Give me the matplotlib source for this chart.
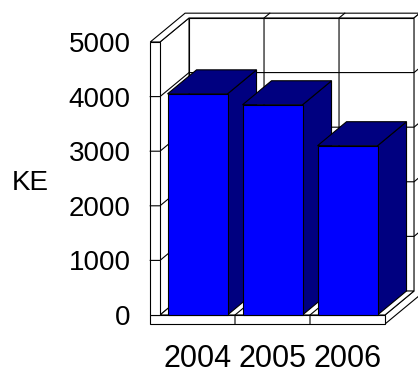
import matplotlib.pyplot as plt
from matplotlib.patches import Polygon

plt.rcParams['font.family'] = ['Liberation Sans', 'DejaVu Sans']

years = ['2004', '2005', '2006']
values = [4050, 3850, 3100]
y_ticks = [0, 1000, 2000, 3000, 4000, 5000]
y_label = 'KE'

# fake 3d look: depth offset in data units
DX, DY = 0.387, 440
WALL = 0.13      # left wall thickness (x units)
FLOOR = 165      # floor thickness (value units)
BACK = 0.2       # back wall thickness (depth units)
YMAX = y_ticks[-1]
NCAT = len(years)
BAR_W = 0.8


def proj(x, y, z):
    return (x + z * DX, y + z * DY)


def face(ax, pts, fc, z=1):
    poly = Polygon([proj(*p) for p in pts], closed=True, facecolor=fc,
                   edgecolor='black', linewidth=0.8, clip_on=False,
                   joinstyle='miter', zorder=z)
    ax.add_patch(poly)


def line(ax, pts):
    xy = [proj(*p) for p in pts]
    ax.plot([p[0] for p in xy], [p[1] for p in xy], color='black',
            linewidth=0.8, clip_on=False, zorder=1.5)


fig = plt.figure(figsize=(4.18, 3.74), dpi=100)
ax = fig.add_axes([160 / 418, 59 / 374, 225 / 418, 273 / 374])
ax.set_xlim(0, NCAT)
ax.set_ylim(0, YMAX)
ax.set_facecolor('none')
for s in ax.spines.values():
    s.set_visible(False)

# walls and floor
face(ax, [(0, 0, 1), (NCAT, 0, 1), (NCAT, YMAX, 1), (0, YMAX, 1)], 'white')
face(ax, [(0, 0, 0), (0, 0, 1), (0, YMAX, 1), (0, YMAX, 0)], 'white')
face(ax, [(-WALL, YMAX, 0), (0, YMAX, 0), (0, YMAX, 1), (NCAT, YMAX, 1),
          (NCAT, YMAX, 1 + BACK), (-WALL, YMAX, 1 + BACK)], 'white')
face(ax, [(NCAT, -FLOOR, 0), (NCAT, 0, 0), (NCAT, 0, 1), (NCAT, YMAX, 1),
          (NCAT, YMAX, 1 + BACK), (NCAT, -FLOOR, 1 + BACK)], 'white')
face(ax, [(0, 0, 0), (NCAT, 0, 0), (NCAT, 0, 1), (0, 0, 1)], 'white')
face(ax, [(-WALL, -FLOOR, 0), (NCAT, -FLOOR, 0), (NCAT, 0, 0), (-WALL, 0, 0)], 'white')
face(ax, [(-WALL, 0, 0), (0, 0, 0), (0, YMAX, 0), (-WALL, YMAX, 0)], 'white')

# gridlines
for v in y_ticks[1:-1]:
    line(ax, [(-WALL, v, 0), (0, v, 0), (0, v, 1), (NCAT, v, 1), (NCAT, v, 1 + BACK)])
for i in range(1, NCAT):
    line(ax, [(i, 0, 1), (i, YMAX, 1), (i, YMAX, 1 + BACK)])
    line(ax, [(i, -FLOOR, 0), (i, 0, 0), (i, 0, 1)])

# bars, left to right so each one hides the side of the previous
for i, v in enumerate(values):
    x0 = i + (1 - BAR_W) / 2
    x1 = x0 + BAR_W
    zb = 3 + i
    face(ax, [(x1, 0, 0), (x1, v, 0), (x1, v, 1), (x1, 0, 1)], '#000080', zb)
    face(ax, [(x0, v, 0), (x1, v, 0), (x1, v, 1), (x0, v, 1)], '#000080', zb)
    face(ax, [(x0, 0, 0), (x1, 0, 0), (x1, v, 0), (x0, v, 0)], '#0000FF', zb)

ax.set_yticks(y_ticks)
ax.set_yticklabels([str(v) for v in y_ticks], fontsize=20)
ax.set_xticks([i + 0.5 for i in range(NCAT)])
ax.set_xticklabels(years, fontsize=22)
ax.tick_params(axis='y', length=0, pad=21)
ax.tick_params(axis='x', length=0, pad=21)
ax.set_ylabel(y_label, rotation=0, fontsize=20, va='center', ha='center')
ax.yaxis.set_label_coords(-0.578, 0.4835)

fig.savefig('out.png', dpi=100)
